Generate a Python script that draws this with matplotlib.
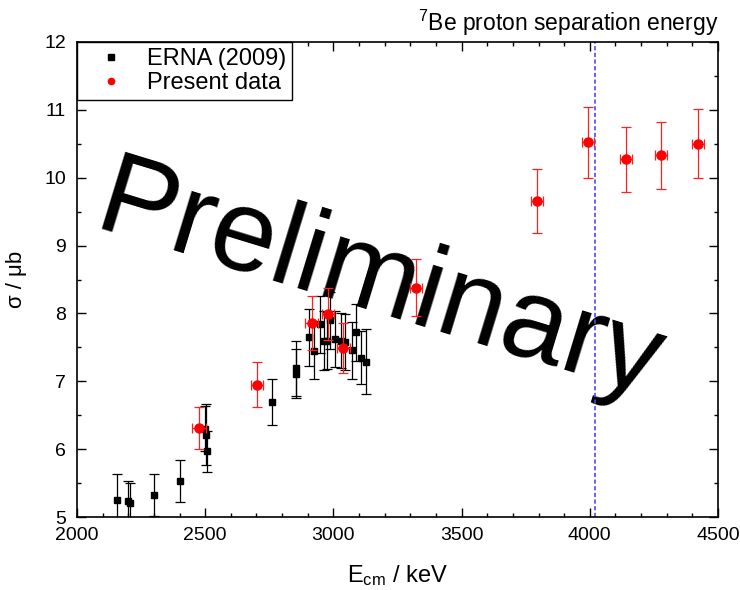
import matplotlib
matplotlib.use("Agg")
import matplotlib.pyplot as plt
from matplotlib.lines import Line2D
from matplotlib.ticker import MultipleLocator

plt.rcParams['font.family'] = ['Liberation Sans', 'DejaVu Sans']
plt.rcParams['mathtext.fontset'] = 'custom'
plt.rcParams['mathtext.rm'] = 'Liberation Sans'
plt.rcParams['mathtext.it'] = 'Liberation Sans:italic'

# ERNA (2009)
erna_E = [2155, 2200, 2205, 2302, 2402, 2500, 2505, 2508, 2759, 2853, 2856, 2906,
          2926, 2947, 2962, 2976, 2987, 3006, 3030, 3045, 3071, 3087, 3108, 3127]
erna_s = [5.25, 5.24, 5.20, 5.32, 5.53, 6.30, 6.21, 5.97, 6.69, 7.19, 7.11, 7.65,
          7.45, 7.84, 7.60, 7.60, 7.90, 7.62, 7.60, 7.58, 7.46, 7.72, 7.35, 7.29]
erna_err = [0.38, 0.29, 0.30, 0.31, 0.31, 0.33, 0.45, 0.30, 0.34, 0.41, 0.36, 0.42,
            0.42, 0.42, 0.43, 0.42, 0.42, 0.41, 0.41, 0.41, 0.42, 0.42, 0.39, 0.48]

# Present data
pres_E = [2476, 2701, 2915, 2980, 3039, 3322, 3795, 3994, 4140, 4278, 4422]
pres_s = [6.31, 6.95, 7.86, 7.99, 7.49, 8.38, 9.66, 10.52, 10.27, 10.33, 10.50]
pres_err = [0.31, 0.33, 0.40, 0.38, 0.37, 0.42, 0.47, 0.52, 0.48, 0.49, 0.51]
pres_xerr = [26, 24, 24, 24, 24, 24, 23, 23, 23, 23, 23]

sep_energy = 4019

fig = plt.figure(figsize=(7.4, 5.9), dpi=100)
ax = fig.add_axes([77/740, 1-517/590, (718-77)/740, (517-42)/590])

ax.errorbar(erna_E, erna_s, yerr=erna_err, fmt='s', color='black', ms=5,
            ecolor='black', elinewidth=0.9, capsize=3.6, capthick=0.9, zorder=3)
ax.errorbar(pres_E, pres_s, yerr=pres_err, xerr=pres_xerr, fmt='o', color='red', ms=6.5,
            ecolor='#ff2020', elinewidth=0.9, capsize=3.6, capthick=0.9, zorder=4)

ax.axvline(sep_energy, color='#4a4aff', lw=1.2, ls=(0, (2.5, 1.5)), zorder=2)

ax.set_xlim(2000, 4500)
ax.set_ylim(5, 12)
ax.xaxis.set_major_locator(MultipleLocator(500))
ax.xaxis.set_minor_locator(MultipleLocator(100))
ax.yaxis.set_major_locator(MultipleLocator(1))
ax.yaxis.set_minor_locator(MultipleLocator(0.5))
ax.tick_params(which='both', direction='in', top=True, right=True, width=1.0,
               labelsize=14)
ax.tick_params(which='major', length=6.5)
ax.tick_params(which='minor', length=3)
ax.tick_params(axis='x', which='major', pad=7)
ax.tick_params(axis='y', which='major', pad=8)
for s in ax.spines.values():
    s.set_linewidth(1.2)

ax.set_xlabel(r'E$_{\mathregular{cm}}$ / keV', fontsize=17, labelpad=14)
ax.set_ylabel('σ / μb', fontsize=16, labelpad=12)

ax.text(1.0, 1.008, r'$\mathregular{^7}$Be proton separation energy', transform=ax.transAxes,
        ha='right', va='bottom', fontsize=16.5)

ax.text(0.471, 0.49, 'Preliminary', transform=ax.transAxes, fontsize=84,
        rotation=-17, ha='center', va='center', color='black', zorder=1, clip_on=False)

handles = [Line2D([], [], marker='s', color='black', ls='none', ms=4),
           Line2D([], [], marker='o', color='red', ls='none', ms=4.5)]
leg = ax.legend(handles, ['ERNA (2009)', 'Present data'], loc='upper left',
                bbox_to_anchor=(0, 1), borderaxespad=0, fancybox=False,
                edgecolor='black', fontsize=17, handlelength=2.4, handletextpad=0.3,
                borderpad=0.25, labelspacing=0.1, framealpha=1)
leg.get_frame().set_linewidth(1.0)
leg.set_zorder(5)

fig.savefig('out.png', dpi=100)
